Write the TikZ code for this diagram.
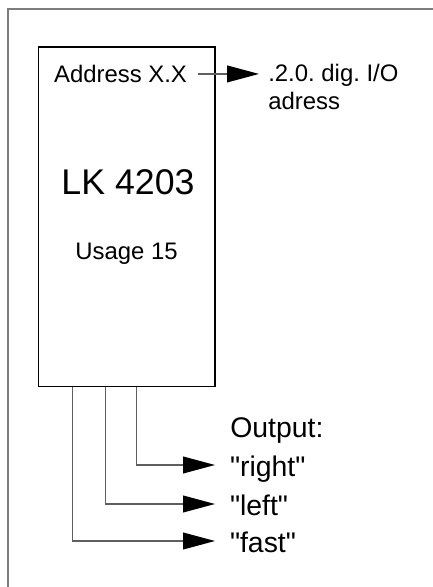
\documentclass[tikz,border=0pt]{standalone}
\usepackage{fontspec}
\setmainfont{Liberation Sans}[Ligatures=TeXOff]
\usepackage{tikz}
\usetikzlibrary{arrows.meta,positioning}
\definecolor{cadreGris}{RGB}{125,125,125}
\definecolor{filGris}{RGB}{95,95,95}
\frenchspacing

\begin{document}
\begin{tikzpicture}[font=\fontsize{17}{20.5}\selectfont,
  conn/.style={draw=filGris, line width=1pt,
    -{Triangle[length=0.8cm,width=0.42cm,color=black]}},
  outlbl/.style={anchor=west, inner xsep=0.375cm, inner ysep=0pt, outer sep=0pt,
    text height=0.58cm, text depth=0pt, font=\fontsize{20.2}{24}\selectfont}]

\useasboundingbox (0,0) rectangle (10.8,14.675);
\draw[cadreGris, line width=1.4pt] (0.2,-0.5) -- (0.2,14.45) -- (11.3,14.45);

\node[draw=black, line width=0.8pt, minimum width=4.4125cm, minimum height=8.4925cm,
      inner sep=0pt] (box) at (3.169,9.254) {};

\node[anchor=base, inner xsep=0.275cm] (addr) at (3.0125,12.6125) {Address X.X};
\node[anchor=base west, align=left, inner xsep=0.225cm, inner ysep=0pt] (io)
      at (6.475,11.925) {.2.0. dig. I/O\\adress};
\node[anchor=base, font=\fontsize{25.4}{30}\selectfont] (type) at (3.2,9.8) {LK 4203};
\node[anchor=base] (usage) at (3.1625,8.175) {Usage 15};

\node[anchor=base west, inner sep=0pt, font=\fontsize{20.2}{24}\selectfont] (outp)
      at (5.75,3.725) {Output:};
\node[outlbl] (rgt) at (5.375,3.05) {"right"};
\node[outlbl] (lft) at (5.375,2.075) {"left"};
\node[outlbl] (fst) at (5.375,1.15) {"fast"};

\draw[conn] (addr.east) -- (addr.east -| io.west);
\draw[conn] (box.south west) ++(2.4625,0) |- (rgt.west);
\draw[conn] (box.south west) ++(1.6875,0) |- (lft.west);
\draw[conn] (box.south west) ++(0.8625,0) |- (fst.west);

\end{tikzpicture}
\end{document}
